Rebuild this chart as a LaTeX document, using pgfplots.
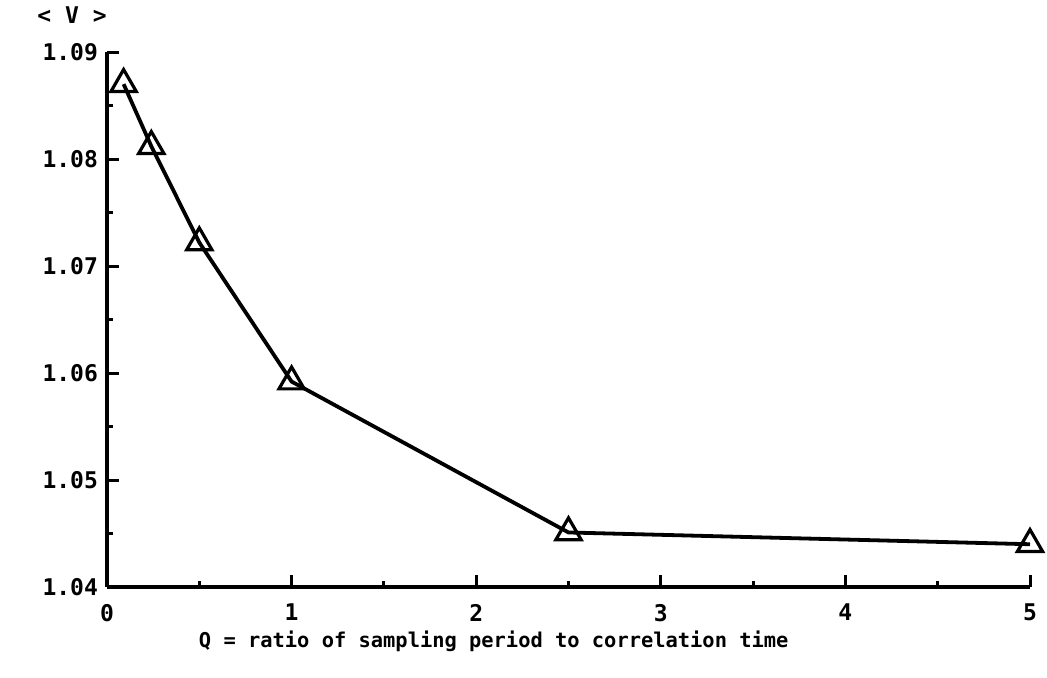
\documentclass[border=0pt]{standalone}
\usepackage{pgfplots}
\pgfplotsset{compat=1.18}
\usepackage{fontspec}
\setmainfont{DejaVu Sans Mono}
\begin{document}
\begin{tikzpicture}
\begin{axis}[
  scale only axis,
  width=461.5pt, height=267.5pt,
  xmin=0, xmax=5, ymin=1.04, ymax=1.09,
  axis lines=left,
  axis line style={-, line width=1.9pt},
  tick align=inside,
  xtick={0,1,2,3,4,5},
  ytick={1.04,1.05,1.06,1.07,1.08,1.09},
  minor x tick num=1, minor y tick num=1,
  major tick length=6pt, minor tick length=3pt,
  tick style={line width=1.5pt, black},
  y tick label style={/pgf/number format/fixed, /pgf/number format/fixed zerofill, /pgf/number format/precision=2},
  /pgf/number format/assume math mode=true,
  ticklabel style={font=\bfseries\fontsize{11.5}{13}\selectfont},
  xticklabel style={yshift=-5pt},
  yticklabel style={xshift=-1pt},
  xlabel={Q = ratio of sampling period to correlation time},
  xlabel style={font=\bfseries\fontsize{10.2}{12}\selectfont, at={(axis description cs:0.419,0)}, anchor=center, yshift=-27pt},
  clip=false,
]
\addplot[black, line width=1.9pt, mark=triangle, mark size=7.3pt,
  mark options={fill=white, line width=1.6pt}]
  coordinates {(0.09,1.0870) (0.24,1.0812) (0.5,1.0722) (1,1.0592) (2.5,1.0451) (5,1.0440)};
\node[font=\bfseries\fontsize{11.5}{13}\selectfont] at ([shift={(-17.5pt,18.5pt)}]rel axis cs:0,1) {< V >};
\end{axis}
\path ([shift={(-53.5pt,-45pt)}]current axis.south west) rectangle ([shift={(470pt,293.5pt)}]current axis.south west);
\end{tikzpicture}
\end{document}
